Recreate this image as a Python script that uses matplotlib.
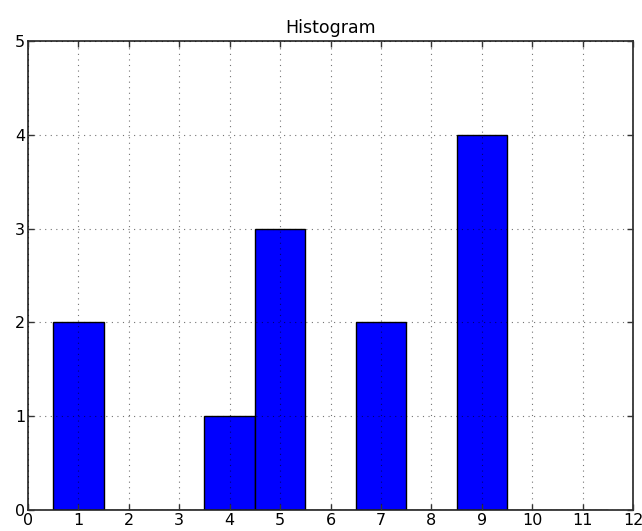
import matplotlib
matplotlib.use("Agg")
import matplotlib.pyplot as plt

centers = [1, 2, 3, 4, 5, 6, 7, 8, 9, 10, 11]
counts = [2, 0, 0, 1, 3, 0, 2, 0, 4, 0, 0]
xticks = list(range(0, 13))
yticks = list(range(0, 6))

fig = plt.figure(figsize=(6.42, 5.31), dpi=100)
ax = fig.add_axes([0.0436, 0.0395, 0.9424, 0.8835])

ax.bar(centers, counts, width=1.0, align="center",
       color="#0000ff", edgecolor="black", linewidth=1.0, zorder=1)

ax.set_xlim(0, 12)
ax.set_ylim(0, 5)
ax.set_xticks(xticks)
ax.set_yticks(yticks)
ax.set_axisbelow(False)
ax.grid(True, color="black", linestyle=(0, (1, 4)), linewidth=0.8, alpha=0.55)
ax.tick_params(direction="in", length=4, width=1, labelsize=11.5, pad=2,
               top=True, right=True, colors="#333333", labelcolor="black")
for s in ax.spines.values():
    s.set_linewidth(1.2)
    s.set_color("#222222")

ax.set_title("Histogram", fontsize=12.5, pad=6)

fig.savefig("out.png", dpi=100)
